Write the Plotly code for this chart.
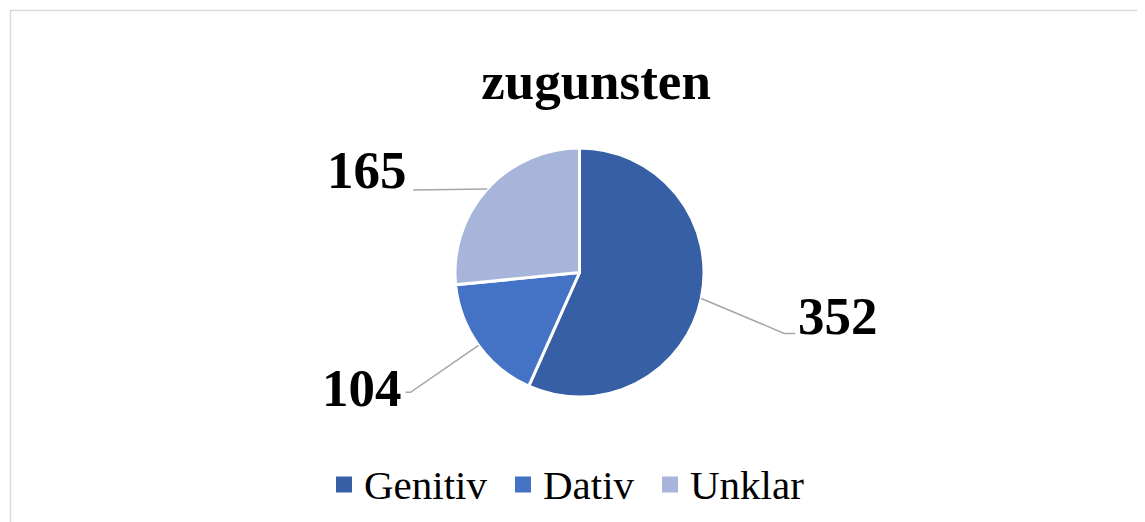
import math
import plotly.graph_objects as go

# Data
categories = ["Genitiv", "Dativ", "Unklar"]
values = [352, 104, 165]
colors = ["#365FA5", "#4472C4", "#A7B5DB"]
title_text = "zugunsten"

# page offset (browser body margin) and figure size
OX, OY = 8, 8
W, H = 1145 - OX, 522 - OY
CX, CY, R = 579.5, 272.5, 124.5  # pie center/radius in page pixels


def px(x):
    return (x - OX) / W


def py(y):
    return 1 - (y - OY) / H


fig = go.Figure()
fig.add_trace(go.Pie(
    labels=categories,
    values=values,
    sort=False,
    direction="clockwise",
    rotation=0,
    textinfo="none",
    hoverinfo="label+value",
    showlegend=False,
    marker=dict(colors=colors, line=dict(color="white", width=3)),
    domain=dict(x=[px(CX - R), px(CX + R)], y=[py(CY + R), py(CY - R)]),
))

# label layout (pixel offsets from slice edge point): elbow, end, text anchor
label_style = {
    "Genitiv": dict(elbow=(83, 35), tail=11, xanchor="left", tx=1, ty=-17),
    "Dativ": dict(elbow=(-68, 47), tail=-5, xanchor="right", tx=-2, ty=-4),
    "Unklar": dict(elbow=(-74, 1), tail=0, xanchor="right", tx=-4, ty=-20),
}

total = sum(values)
cum = 0.0
shapes = []
annotations = []
for cat, val in zip(categories, values):
    mid = (cum + val / 2) / total * 360.0
    cum += val
    theta = math.radians(90 - mid)
    ex = CX + R * math.cos(theta)
    ey = CY - R * math.sin(theta)
    st = label_style[cat]
    bx, by = ex + st["elbow"][0], ey + st["elbow"][1]
    fx, fy = bx + st["tail"], by
    shapes.append(dict(
        type="path", xref="paper", yref="paper",
        path=f"M {px(ex)},{py(ey)} L {px(bx)},{py(by)} L {px(fx)},{py(fy)}",
        line=dict(color="#A6A6A6", width=1.5),
    ))
    annotations.append(dict(
        x=px(fx + st["tx"]), y=py(fy + st["ty"]), xref="paper", yref="paper",
        text=f"<b>{val}</b>", showarrow=False,
        xanchor=st["xanchor"], yanchor="middle",
        font=dict(family="Liberation Serif", size=53, color="black"),
    ))

# custom legend (square swatches + labels)
legend_x = [336, 515, 662]  # left edge of each swatch, page px
legend_y = 484.5
for cat, col, lx in zip(categories, colors, legend_x):
    shapes.append(dict(type="rect", xref="paper", yref="paper",
                       x0=px(lx), x1=px(lx + 16),
                       y0=py(legend_y + 8), y1=py(legend_y - 8),
                       fillcolor=col, line=dict(width=0)))
    annotations.append(dict(
        x=px(lx + 26), y=py(legend_y), xref="paper", yref="paper",
        text=cat, showarrow=False, xanchor="left", yanchor="middle",
        font=dict(family="Liberation Serif", size=41, color="black"),
    ))

# chart-area border (left and top edges visible)
shapes.append(dict(type="line", xref="paper", yref="paper",
                   x0=px(10.5), x1=px(10.5), y0=py(10), y1=0,
                   line=dict(color="#D9D9D9", width=1.5)))
shapes.append(dict(type="line", xref="paper", yref="paper",
                   x0=px(10), x1=1, y0=py(10.5), y1=py(10.5),
                   line=dict(color="#D9D9D9", width=1.5)))

fig.update_layout(
    width=W, height=H,
    margin=dict(l=0, r=0, t=0, b=0),
    paper_bgcolor="white", plot_bgcolor="white",
    title=dict(text=f"<b>{title_text}</b>", x=px(596), xanchor="center",
               y=py(80), yanchor="middle",
               font=dict(family="Liberation Serif", size=53, color="black")),
    showlegend=False,
    shapes=shapes,
    annotations=annotations,
)

fig.write_html("out.html")
